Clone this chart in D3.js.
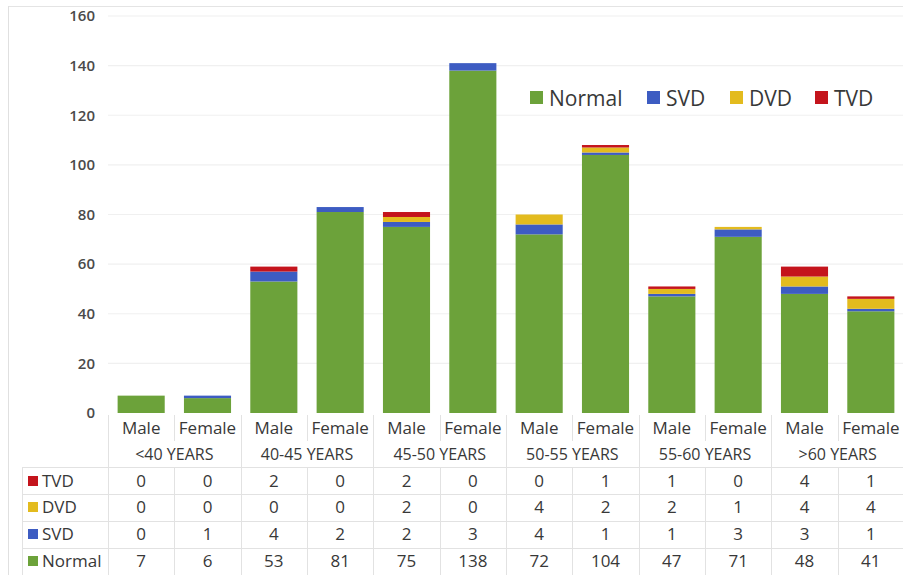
<!DOCTYPE html>
<html><head><meta charset="utf-8">
<script src="https://cdn.jsdelivr.net/npm/d3@7"></script>
<style>body{margin:0;background:#fff;}svg{display:block;font-family:"Open Sans",sans-serif;}</style>
</head><body>
<svg id="c" width="903" height="575"></svg>
<script>
const groups = ["<40 YEARS","40-45 YEARS","45-50 YEARS","50-55 YEARS","55-60 YEARS",">60 YEARS"];
const genders = ["Male","Female"];
const seriesNames = ["Normal","SVD","DVD","TVD"];
const normal = [7,6,53,81,75,138,72,104,47,71,48,41];
const svd    = [0,1,4,2,2,3,4,1,1,3,3,1];
const dvd    = [0,0,0,0,2,0,4,2,2,1,4,4];
const tvd    = [0,0,2,0,2,0,0,1,1,0,4,1];
const yTicks = [0,20,40,60,80,100,120,140,160];
const colors = {Normal:"#6ca23a",SVD:"#3d5cc2",DVD:"#e3bb1e",TVD:"#c4141c"};

const svg = d3.select("#c");
const cats = d3.range(12);
const rows = cats.map(i=>({i,Normal:normal[i],SVD:svd[i],DVD:dvd[i],TVD:tvd[i]}));
const x = d3.scaleBand().domain(cats).range([108,904]).paddingInner(0.29).paddingOuter(0.145);
const xb = d3.scaleBand().domain(cats).range([108,904]);
const y = d3.scaleLinear().domain([0,160]).range([413,16]);
const txt = "#383838";

// frame
svg.append("line").attr("x1",8).attr("x2",903).attr("y1",6.5).attr("y2",6.5).attr("stroke","#e4e4e4");
svg.append("line").attr("x1",8.5).attr("x2",8.5).attr("y1",6).attr("y2",575).attr("stroke","#e0e0e0");

// gridlines
svg.append("g").selectAll("line").data(yTicks.slice(1)).join("line")
  .attr("x1",108).attr("x2",903).attr("y1",d=>y(d)).attr("y2",d=>y(d))
  .attr("stroke","#f0f0f0").attr("stroke-width",1.2);

// y axis labels
const ya = svg.append("g").attr("transform","translate(95,0)")
  .call(d3.axisLeft(y).tickValues(yTicks).tickSize(0).tickPadding(0));
ya.select(".domain").remove();
ya.selectAll("text").attr("font-size",15).attr("font-weight",600).attr("fill","#4a4a4a").attr("font-family","Open Sans, sans-serif");

// bars
const stack = d3.stack().keys(seriesNames)(rows);
svg.append("g").selectAll("g").data(stack).join("g").attr("fill",d=>colors[d.key])
  .selectAll("rect").data(d=>d).join("rect")
  .attr("x",d=>x(d.data.i)).attr("width",x.bandwidth())
  .attr("y",d=>y(d[1])).attr("height",d=>y(d[0])-y(d[1]));

// legend
const legX = [530,647,730,815];
const lg = svg.append("g");
seriesNames.forEach((s,k)=>{
  lg.append("rect").attr("x",legX[k]).attr("y",91).attr("width",13).attr("height",13).attr("fill",colors[s]);
  lg.append("text").attr("x",legX[k]+19).attr("y",98).attr("dy","0.36em").attr("font-size",21).attr("fill",txt).text(s);
});

// table
const tg = svg.append("g");
const lineC = "#e2e2e2";
const rowLines = [467,494,521,548,575];
tg.selectAll(".hl").data(rowLines).join("line").attr("x1",22).attr("x2",903)
  .attr("y1",d=>d+0.5).attr("y2",d=>d+0.5).attr("stroke",lineC);
cats.forEach(i=>{
  const xx = Math.round(xb(i))+0.5;
  if(i%2===0){
    tg.append("line").attr("x1",xx).attr("x2",xx).attr("y1",415).attr("y2",575).attr("stroke",lineC);
  } else {
    tg.append("line").attr("x1",xx).attr("x2",xx).attr("y1",415).attr("y2",441).attr("stroke",lineC);
    tg.append("line").attr("x1",xx).attr("x2",xx).attr("y1",467).attr("y2",575).attr("stroke",lineC);
  }
});
tg.append("line").attr("x1",22.5).attr("x2",22.5).attr("y1",467).attr("y2",575).attr("stroke",lineC);

// category labels
tg.selectAll(".g1").data(cats).join("text").attr("x",i=>xb(i)+xb.bandwidth()/2).attr("y",428)
  .attr("dy","0.36em").attr("text-anchor","middle").attr("font-size",17).attr("fill",txt)
  .text(i=>genders[i%2]);
tg.selectAll(".g2").data(groups).join("text").attr("x",(g,k)=>xb(2*k)+xb.bandwidth())
  .attr("y",454).attr("dy","0.36em").attr("text-anchor","middle").attr("font-size",16).attr("fill",txt)
  .text(g=>g);

const tableRows = [["TVD",tvd,481],["DVD",dvd,507],["SVD",svd,534],["Normal",normal,561]];
tableRows.forEach(([name,vals,yy])=>{
  tg.append("rect").attr("x",28).attr("y",yy-5).attr("width",10).attr("height",10).attr("fill",colors[name]);
  tg.append("text").attr("x",42).attr("y",yy).attr("dy","0.36em").attr("font-size",17).attr("fill",txt).text(name);
  tg.selectAll(null).data(vals).join("text").attr("x",(v,i)=>xb(i)+xb.bandwidth()/2).attr("y",yy)
    .attr("dy","0.36em").attr("text-anchor","middle").attr("font-size",17).attr("fill",txt).text(v=>v);
});
</script>
</body></html>
